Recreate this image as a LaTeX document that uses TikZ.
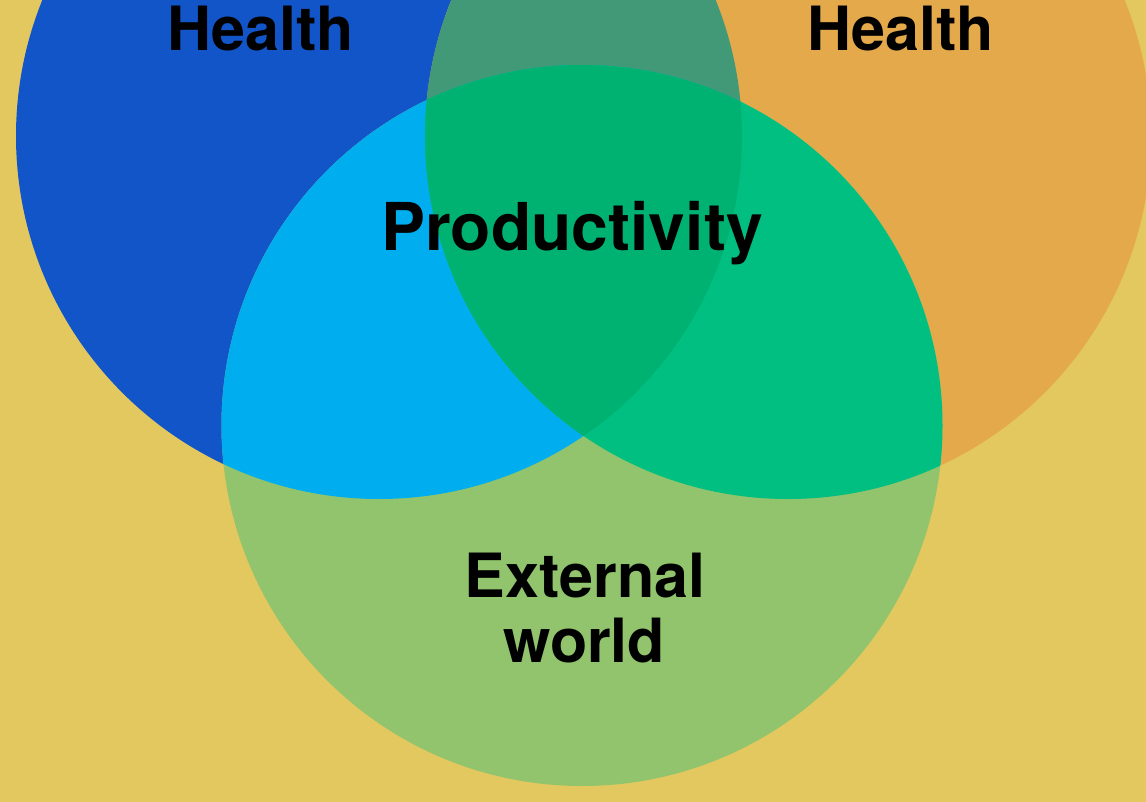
\documentclass[tikz,border=0pt]{standalone}
\usepackage{fontspec}
\setmainfont{TeX Gyre Heros}
\begin{document}
\definecolor{bgyellow}{HTML}{E3C85F}
\definecolor{healthblue}{HTML}{1155C9}
\definecolor{healthorange}{HTML}{E3A94B}
\definecolor{worldgreen}{HTML}{91C46C}
\definecolor{bluegreen}{HTML}{00AEEF}
\definecolor{orangegreen}{HTML}{00BF80}
\definecolor{blueorange}{HTML}{419978}
\definecolor{allthree}{HTML}{00B272}
\begin{tikzpicture}[x=1pt,y=-1pt,
  label/.style={text=black,inner sep=0pt,anchor=base,font=\bfseries\fontsize{#1}{#1}\selectfont},
  label/.default=61]
  % canvas
  \fill[bgyellow] (0,0) rectangle (1146,802);
  \useasboundingbox (0,0) rectangle (1146,802);
  % circle centres and radii
  \coordinate (L) at (379,136);
  \coordinate (R) at (788,136);
  \coordinate (B) at (582,425.5);
  \def\rad{363pt}
  \def\radB{360.5pt}
  % single sets
  \fill[healthblue] (L) circle[radius=\rad];
  \fill[healthorange] (R) circle[radius=\rad];
  \fill[worldgreen] (B) circle[radius=\radB];
  % pairwise overlaps
  \begin{scope}
    \clip (L) circle[radius=\rad];
    \fill[blueorange] (R) circle[radius=\rad];
    \fill[bluegreen] (B) circle[radius=\radB];
  \end{scope}
  \begin{scope}
    \clip (R) circle[radius=\rad];
    \fill[orangegreen] (B) circle[radius=\radB];
  \end{scope}
  % triple overlap
  \begin{scope}
    \clip (L) circle[radius=\rad];
    \clip (R) circle[radius=\rad];
    \fill[allthree] (B) circle[radius=\radB];
  \end{scope}
  % labels
  \node[label] (healthL) at (261,51) {Health};
  \node[label] (healthR) at (901,51) {Health};
  \node[label=66] (prod) at (572,251) {Productivity};
  \node[label=61] (ext) at (585,597) {External};
  \node[label=61] (world) at (584,662) {world};
\end{tikzpicture}
\end{document}
